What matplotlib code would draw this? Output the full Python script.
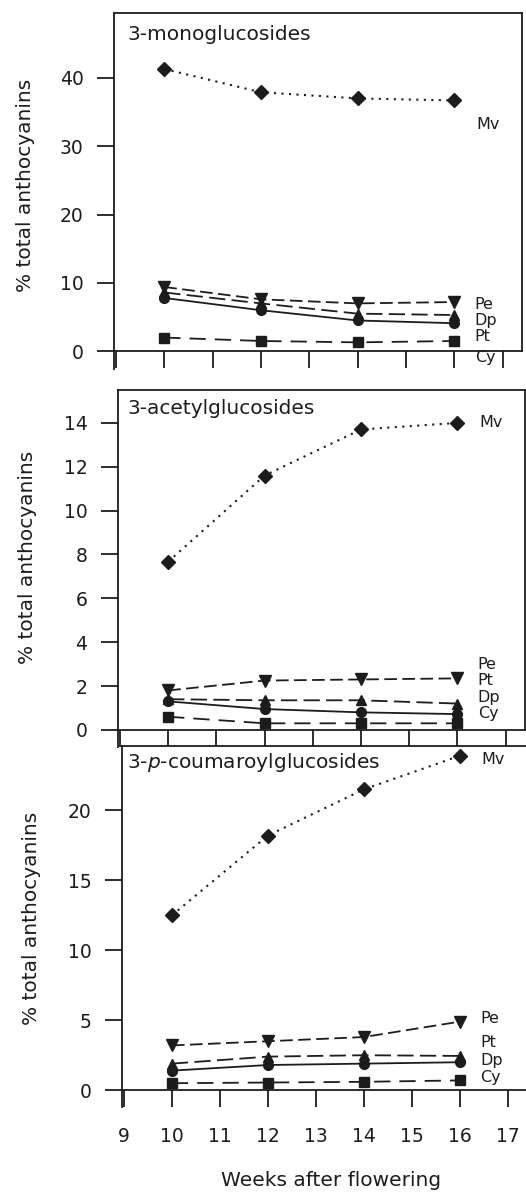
import matplotlib
matplotlib.use('Agg')
import matplotlib.pyplot as plt

weeks = [10, 12, 14, 16]
series = ['Mv', 'Pe', 'Dp', 'Pt', 'Cy']

# 3-monoglucosides
mono_mv = [41.3, 37.9, 37.0, 36.7]
mono_pe = [9.4, 7.6, 7.0, 7.2]
mono_dp = [8.6, 7.0, 5.5, 5.3]
mono_pt = [7.8, 6.0, 4.5, 4.1]
mono_cy = [2.0, 1.5, 1.3, 1.5]

# 3-acetylglucosides
acet_mv = [7.67, 11.6, 13.7, 14.0]
acet_pe = [1.8, 2.25, 2.3, 2.35]
acet_dp = [1.4, 1.35, 1.35, 1.2]
acet_pt = [1.3, 0.95, 0.8, 0.72]
acet_cy = [0.6, 0.3, 0.3, 0.3]

# 3-p-coumaroylglucosides
coum_mv = [12.5, 18.2, 21.5, 23.9]
coum_pe = [3.2, 3.5, 3.8, 4.9]
coum_dp = [1.9, 2.4, 2.5, 2.45]
coum_pt = [1.4, 1.8, 1.9, 2.0]
coum_cy = [0.5, 0.55, 0.6, 0.7]

titles = ['3-monoglucosides', '3-acetylglucosides', r'3-$p$-coumaroylglucosides']
yticks = [[0, 10, 20, 30, 40], [0, 2, 4, 6, 8, 10, 12, 14], [0, 5, 10, 15, 20]]
xticks = list(range(9, 18))

# label order / heights at the right hand side of each panel
label_names = [['Mv', 'Pe', 'Dp', 'Pt', 'Cy'],
               ['Mv', 'Pe', 'Pt', 'Dp', 'Cy'],
               ['Mv', 'Pe', 'Pt', 'Dp', 'Cy']]
label_y = [[33.2, 6.9, 4.5, 2.1, -0.9],
           [14.0, 3.0, 2.25, 1.5, 0.73],
           [23.6, 5.1, 3.4, 2.1, 0.93]]

panels = [
    [mono_mv, mono_pe, mono_dp, mono_pt, mono_cy],
    [acet_mv, acet_pe, acet_dp, acet_pt, acet_cy],
    [coum_mv, coum_pe, coum_dp, coum_pt, coum_cy],
]

W, H = 526, 1192
ink = '#1c1c1c'

# pixel boxes (left, top, right, bottom) and y limits
boxes = [(114, 13, 522, 369), (118, 390, 525, 747), (122, 746, 527, 1107)]
ylims = [(-2.6, 49.5), (-0.78, 15.5), (-1.2, 24.6)]

styles = {
    'Mv': dict(marker='D', ms=6.8, dashes=(1.0, 2.6), lw=1.5),
    'Pe': dict(marker='v', ms=8, dashes=(7, 3), lw=1.3),
    'Dp': dict(marker='^', ms=7.5, dashes=(9, 3.5), lw=1.3),
    'Pt': dict(marker='o', ms=7, dashes=(None, None), lw=1.3),
    'Cy': dict(marker='s', ms=6.5, dashes=(9, 5), lw=1.3),
}

fig = plt.figure(figsize=(W / 100, H / 100), dpi=100)


def px(x, y):
    return x / W, 1 - y / H


for i, data in enumerate(panels):
    l, t, r, b = boxes[i]
    ax = fig.add_axes([l / W, 1 - b / H, (r - l) / W, (b - t) / H])
    ax.set_xlim(8.96, 17.4)
    ax.set_ylim(*ylims[i])

    for name, vals in zip(series, data):
        st = styles[name]
        line, = ax.plot(weeks, vals, color=ink, marker=st['marker'], ms=st['ms'],
                        lw=st['lw'], mfc=ink, mec=ink, clip_on=False, zorder=3)
        if st['dashes'][0] is not None:
            line.set_dashes(st['dashes'])

    for name, yy in zip(label_names[i], label_y[i]):
        ax.text(16.42 if name != 'Mv' else 16.45, yy, name, fontsize=11.5,
                color=ink, va='center', ha='left')

    ax.text((127 - l) / (r - l), (b - (35 if i == 0 else 408 if i == 1 else 762)) / (b - t),
            titles[i], transform=ax.transAxes, fontsize=14.5, color=ink,
            ha='left', va='center')

    for sp in ax.spines.values():
        sp.set_color(ink)
        sp.set_linewidth(1.3)
    ax.spines['bottom'].set_position(('data', 0))
    ax.spines['right'].set_bounds(0, ylims[i][1])

    ax.set_yticks(yticks[i])
    ax.set_xticks(xticks)
    ax.tick_params(axis='y', direction='out', length=12, width=1.3, color=ink,
                   labelsize=13.5, pad=10, labelcolor=ink)
    ax.tick_params(axis='x', direction='out', length=12.5, width=1.3, color=ink,
                   labelsize=13.5, pad=14, labelcolor=ink)
    if i < 2:
        ax.set_xticklabels([])

    ycen = [185, 557, 918][i]
    xcen = [26, 28, 32][i]
    fig.text(*px(xcen, ycen), '% total anthocyanins', rotation=90, fontsize=14.5,
             color=ink, ha='center', va='center')

fig.text(*px(331, 1180), 'Weeks after flowering', fontsize=14.5, color=ink,
         ha='center', va='center')

fig.savefig('out.png', dpi=100, facecolor='white')
